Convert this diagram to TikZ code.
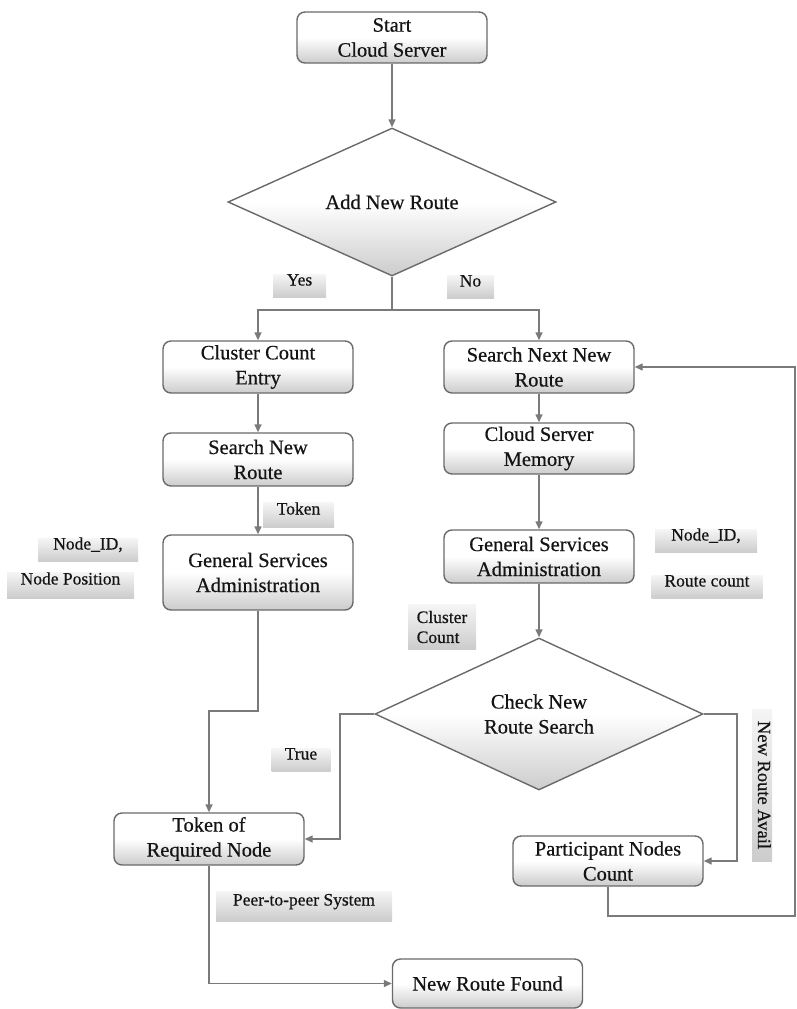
\documentclass[tikz,border=0pt]{standalone}
\usepackage{fontspec}
\setmainfont{Liberation Serif}[BoldFont=Liberation Serif, BoldFeatures={FakeBold=0.5}]
\usetikzlibrary{shapes.geometric,arrows.meta}
\definecolor{linegray}{HTML}{7A7A7A}
\definecolor{boxborder}{HTML}{6A6A6A}
\definecolor{txt}{HTML}{141414}
\begin{document}
\begin{tikzpicture}[x=1pt,y=-1pt,
  box/.style={draw=boxborder, line width=1.4pt, rounded corners=8pt,
    top color=white, bottom color=gray!40, middle color=white,
    minimum width=190pt, align=center, inner sep=2pt,
    font=\fontsize{20.5}{25}\selectfont\bfseries, text=txt},
  dia/.style={diamond, draw=boxborder, line width=1.4pt,
    top color=white, bottom color=gray!40, middle color=white,
    align=center, inner sep=0pt,
    font=\fontsize{20.5}{25}\selectfont\bfseries, text=txt},
  lblbase/.style={top color=gray!8, bottom color=gray!40, inner xsep=0pt, inner ysep=1pt,
    font=\fontsize{17.5}{20}\selectfont\bfseries, text=txt},
  lbl/.style={lblbase, text height=10pt, text depth=11pt},
  conn/.style={draw=linegray, line width=1.4pt, -{Triangle[length=8pt,width=7pt]}},
  plainline/.style={draw=linegray, line width=1.4pt}]
\useasboundingbox (0,0) rectangle (796,1009);

% main boxes
\node[box, minimum height=51pt] (start) at (392,37.5) {Start\\Cloud Server};
\node[dia, minimum width=328pt, minimum height=148pt] (add) at (392,202) {Add New Route};
\node[box, minimum height=52pt] (cce) at (258,367) {Cluster Count\\Entry};
\node[box, minimum height=53pt] (snr) at (258,459.5) {Search New\\Route};
\node[box, minimum height=75pt] (gsa1) at (258,572.5) {General Services\\Administration};
\node[box, minimum height=52pt] (tok) at (209,839) {Token of\\Required Node};
\node[box, minimum height=49pt] (nrf) at (487.5,983.5) {New Route Found};
\node[box, minimum height=52pt] (snnr) at (539,367) {Search Next New\\Route};
\node[box, minimum height=51pt] (csm) at (539,448.5) {Cloud Server\\Memory};
\node[box, minimum height=53pt] (gsa2) at (539,556.5) {General Services\\Administration};
\node[dia, minimum width=328pt, minimum height=152pt] (chk) at (539,714) {Check New\\Route Search};
\node[box, minimum height=50pt] (pnc) at (608,861) {Participant Nodes\\Count};

% labels
\node[lbl, minimum width=53pt] (lyes) at (299.5,286) {Yes};
\node[lbl, minimum width=47pt] (lno) at (470.5,287) {No};
\node[lbl, minimum width=71pt, minimum height=25pt] (ltok) at (298.5,515) {Token};
\node[lbl, minimum width=100pt] (lnid1) at (88,550) {Node\_ID,};
\node[lbl, minimum width=127pt, minimum height=26pt] (lnpos) at (70.5,585) {Node Position};
\node[lbl, minimum width=102pt] (lnid2) at (706,541) {Node\_ID,};
\node[lbl, minimum width=111pt] (lrc) at (707,587) {Route count};
\node[lblbase, minimum width=68pt, minimum height=45pt, align=left] (lcc) at (442,627) {Cluster\\Count};
\node[lblbase, rotate=-90, minimum width=152pt, minimum height=20pt, text height=13pt, text depth=5pt, font=\fontsize{18.5}{21}\selectfont\bfseries] (lnra) at (762,785) {New Route Avail};
\node[lbl, minimum width=59pt] (ltrue) at (301,760) {True};
\node[lbl, minimum width=176pt, minimum height=30pt] (lp2p) at (304,906) {Peer-to-peer System};

% connectors
\coordinate (split) at (392,310);
\coordinate (j1) at (258,711);
\coordinate (j2) at (340,714);
\coordinate (j3) at (737,714);
\coordinate (j4) at (795,916);

\draw[conn] (start.south) -- (add.north);
\draw[plainline] (add.south) -- (split);
\draw[conn] (split) -| (cce.north);
\draw[conn] (split) -| (snnr.north);
\draw[conn] (cce.south) -- (snr.north);
\draw[conn] (snr.south) -- (gsa1.north);
\draw[conn] (gsa1.south) -- (j1) -| (tok.north);
\draw[conn] (snnr.south) -- (csm.north);
\draw[conn] (csm.south) -- (gsa2.north);
\draw[conn] (gsa2.south) -- (chk.north);
\draw[conn] (chk.west) -- (j2) |- (tok.east);
\draw[conn] (chk.east) -- (j3) |- (pnc.east);
\draw[conn] (pnc.south) |- (j4) |- (snnr.east);
\draw[conn] (tok.south) |- (nrf.west);
\end{tikzpicture}
\end{document}
